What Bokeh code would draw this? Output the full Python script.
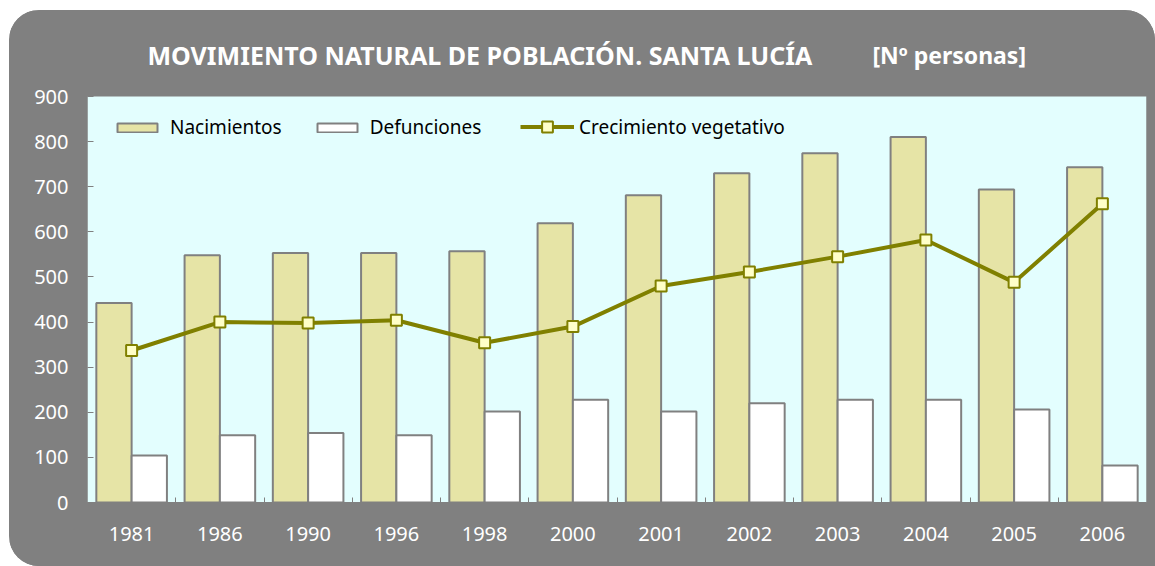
from bokeh.plotting import figure
from bokeh.models import Range1d, FixedTicker, Label, ColumnDataSource, BoxAnnotation, Legend
from bokeh.embed import file_html
from bokeh.resources import INLINE
from bokeh.transform import dodge

# ---- data ----
years = ["1981", "1986", "1990", "1996", "1998", "2000", "2001", "2002", "2003", "2004", "2005", "2006"]
nacimientos = [442, 548, 553, 553, 557, 619, 681, 730, 774, 810, 694, 743]
defunciones = [104, 149, 154, 149, 202, 228, 202, 220, 228, 228, 206, 82]
crecimiento = [337, 400, 398, 404, 354, 390, 480, 511, 545, 582, 488, 662]
y_ticks = [0, 100, 200, 300, 400, 500, 600, 700, 800, 900]
y_max = 900

title_text = "MOVIMIENTO NATURAL DE POBLACIÓN. SANTA LUCÍA"
unit_text = "[Nº personas]"

FONT = "Noto Sans"
GRAY = "#808080"
OLIVE = "#808000"

# layout: the frame also covers the title band; the plot area (0..900) is
# drawn as a box inside it
FRAME_H = 492        # total frame height in px
PLOT_H = 406         # height of the 0..900 plot area in px
y_end = y_max * FRAME_H / PLOT_H

xpos = [i + 0.5 for i in range(len(years))]
source = ColumnDataSource(dict(x=xpos, nac=nacimientos, dfn=defunciones, crec=crecimiento))

p = figure(width=1146, height=556, output_backend="svg", toolbar_location=None,
           x_range=Range1d(0, len(years)), y_range=Range1d(0, y_end),
           min_border_left=78, min_border_right=9, min_border_top=0, min_border_bottom=64,
           background_fill_color=GRAY, border_fill_color=GRAY,
           outline_line_color=None)
p.styles = {"margin-left": "9px", "margin-top": "10px", "background-color": GRAY,
            "border-radius": "30px 30px 0 30px", "overflow": "hidden"}

p.add_layout(BoxAnnotation(bottom=0, top=y_max, fill_color="#e3fefe", fill_alpha=1,
                           line_color=None, level="underlay"))

r_nac = p.vbar(x=dodge("x", -0.2), top="nac", width=0.4, source=source,
               fill_color="#e6e4a6", line_color=GRAY, line_width=2)
r_def = p.vbar(x=dodge("x", 0.2), top="dfn", width=0.4, source=source,
               fill_color="white", line_color=GRAY, line_width=2)
r_line = p.line(x="x", y="crec", source=source, line_color=OLIVE, line_width=4)
r_pts = p.scatter(x="x", y="crec", source=source, marker="square", size=11,
                  fill_color="#ffffc8", line_color=OLIVE, line_width=2)

p.grid.grid_line_color = None

# x axis
p.xaxis.ticker = FixedTicker(ticks=xpos, minor_ticks=list(range(1, len(years))))
p.xaxis.major_label_overrides = {xv: yr for xv, yr in zip(xpos, years)}
p.xaxis.major_tick_in = 0
p.xaxis.major_tick_out = 0
p.xaxis.minor_tick_in = 5
p.xaxis.minor_tick_out = 0
p.xaxis.minor_tick_line_color = GRAY
p.xaxis.axis_line_color = GRAY
p.xaxis.major_label_standoff = 24

# y axis
p.yaxis.ticker = FixedTicker(ticks=y_ticks)
p.yaxis.major_tick_in = 6
p.yaxis.major_tick_out = 0
p.yaxis.major_tick_line_color = GRAY
p.yaxis.minor_tick_line_color = None
p.yaxis.axis_line_color = None
p.yaxis.major_label_standoff = 19

for ax in (p.xaxis[0], p.yaxis[0]):
    ax.major_label_text_font = FONT
    ax.major_label_text_font_size = "20px"
    ax.major_label_text_color = "white"

# titles
p.add_layout(Label(x=60, y=448, x_units="screen", y_units="screen", text=title_text,
                   text_color="white", text_font=FONT, text_font_size="25px",
                   text_font_style="bold", text_baseline="alphabetic", text_align="left"))
p.add_layout(Label(x=785, y=448, x_units="screen", y_units="screen", text=unit_text,
                   text_color="white", text_font=FONT, text_font_size="23px",
                   text_font_style="bold", text_baseline="alphabetic", text_align="left"))


def style_legend(lg):
    lg.orientation = "horizontal"
    lg.background_fill_alpha = 0
    lg.border_line_color = None
    lg.padding = 0
    lg.margin = 0
    lg.spacing = 30
    lg.label_standoff = 8
    lg.glyph_width = 50
    lg.label_text_font = FONT
    lg.label_text_font_size = "19px"
    lg.label_text_color = "black"


# legend: bars
lg1 = Legend(items=[("Nacimientos", [r_nac]), ("Defunciones", [r_def])], location=(25, 362))
style_legend(lg1)
lg1.glyph_height = 11
p.add_layout(lg1, "center")

# legend: line with marker (taller box so the marker keeps its size)
lg2 = Legend(items=[("Crecimiento vegetativo", [r_line, r_pts])], location=(433, 362))
style_legend(lg2)
lg2.label_standoff = 5
lg2.glyph_width = 54
lg2.glyph_height = 27
p.add_layout(lg2, "center")

open("out.html", "w").write(file_html(p, INLINE))
